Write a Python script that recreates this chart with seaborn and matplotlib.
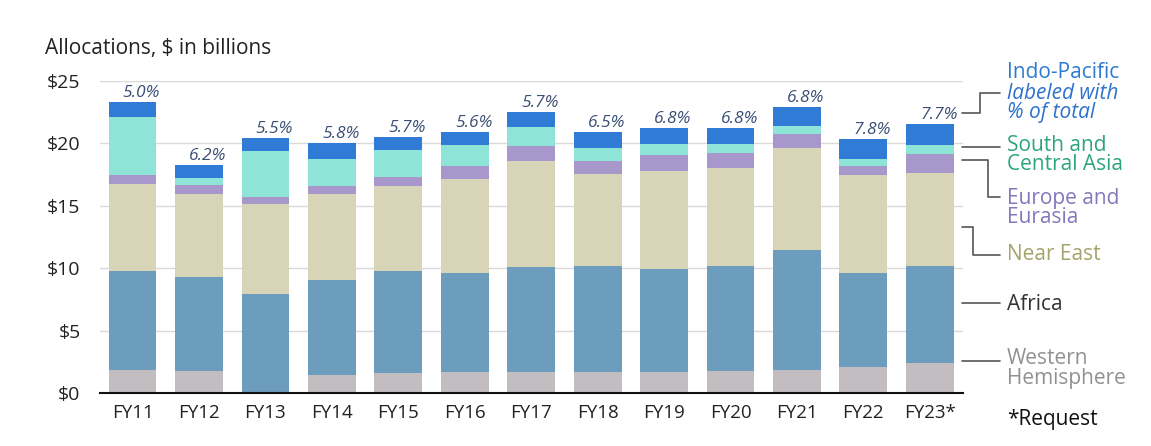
import numpy as np
import pandas as pd
import seaborn as sns
import matplotlib.pyplot as plt
from matplotlib.lines import Line2D
import matplotlib.transforms as mtransforms

# data, $ billions
years = ["FY11", "FY12", "FY13", "FY14", "FY15", "FY16", "FY17",
         "FY18", "FY19", "FY20", "FY21", "FY22", "FY23*"]
western_hemisphere = [1.84, 1.76, 0.0, 1.44, 1.58, 1.66, 1.66, 1.66, 1.66, 1.76, 1.84, 2.11, 2.38]
africa = [7.94, 7.56, 7.96, 7.59, 8.20, 7.98, 8.41, 8.52, 8.28, 8.42, 9.62, 7.53, 7.80]
near_east = [7.00, 6.65, 7.16, 6.94, 6.83, 7.51, 8.54, 7.37, 7.85, 7.82, 8.14, 7.83, 7.47]
europe_eurasia = [0.70, 0.73, 0.61, 0.64, 0.72, 1.04, 1.18, 1.06, 1.25, 1.26, 1.15, 0.72, 1.50]
south_central_asia = [4.60, 0.55, 3.64, 2.17, 2.14, 1.68, 1.50, 1.05, 0.88, 0.66, 0.64, 0.54, 0.72]
indo_pacific = [1.20, 1.05, 1.09, 1.25, 1.07, 1.07, 1.25, 1.28, 1.34, 1.34, 1.55, 1.60, 1.66]
ip_share = ["5.0%", "6.2%", "5.5%", "5.8%", "5.7%", "5.6%", "5.7%",
            "6.5%", "6.8%", "6.8%", "6.8%", "7.8%", "7.7%"]

regions = ["Western Hemisphere", "Africa", "Near East", "Europe and Eurasia",
           "South and Central Asia", "Indo-Pacific"]
values = [western_hemisphere, africa, near_east, europe_eurasia,
          south_central_asia, indo_pacific]
bar_colors = ["#c1bdc1", "#6d9dbd", "#d8d4b8", "#a897cb", "#8ee4d6", "#2f7bd6"]

# long table with cumulative tops for stacking
rows = []
cum = np.zeros(len(years))
for reg, v in zip(regions, values):
    cum = cum + np.array(v)
    for yr, top in zip(years, cum):
        rows.append({"year": yr, "region": reg, "top": top})
df = pd.DataFrame(rows)
totals = cum

sns.set_theme(style="white")
plt.rcParams["font.family"] = ["Open Sans", "DejaVu Sans"]

fig = plt.figure(figsize=(11.51, 4.46), dpi=100)
ax = fig.add_axes([100 / 1151, 1 - 393 / 446, 863 / 1151, 312 / 446])

# draw from the tallest cumulative down so each covers the one below
for reg, col in zip(regions[::-1], bar_colors[::-1]):
    sns.barplot(data=df[df["region"] == reg], x="year", y="top", color=col,
                width=0.72, errorbar=None, saturation=1, linewidth=0,
                order=years, ax=ax)

ax.set_xlim(-0.49, 12.5)
ax.set_ylim(0, 25)
ax.set_yticks(range(0, 30, 5))
ax.set_yticklabels(["$%d" % t for t in range(0, 30, 5)])
ax.set_xlabel("")
ax.set_ylabel("")
ax.set_axisbelow(True)
ax.yaxis.grid(True, color="#d9d9d9", linewidth=1)
for s in ["top", "right", "left"]:
    ax.spines[s].set_visible(False)
ax.spines["bottom"].set_color("#111111")
ax.spines["bottom"].set_linewidth(1.5)
ax.tick_params(axis="y", length=0, pad=14, labelsize=14, labelcolor="#222222")
ax.tick_params(axis="x", length=0, pad=8, labelsize=13.5, labelcolor="#222222")

# percent labels over the Indo-Pacific segment
for i, (t, lab) in enumerate(zip(totals, ip_share)):
    ax.annotate(lab, (i, t), xytext=(9, 5), textcoords="offset pixels",
                ha="center", va="baseline", fontsize=12.5, fontstyle="italic",
                color="#3a4e74", annotation_clip=False)

fig.text(45 / 1151, 1 - 54 / 446, "Allocations, $ in billions", fontsize=15,
         color="#222222", va="baseline")

# callouts on the right
tr = mtransforms.blended_transform_factory(ax.transAxes, ax.transData)
line_kw = dict(color="#555555", linewidth=1.2, transform=tr, clip_on=False)
x0, x1 = 0.999, 1.043
callouts = [
    ([x0, 1.0197, 1.0197, x1], [22.44, 22.44, 24.04, 24.04]),
    ([x0, x1], [19.68, 19.68]),
    ([x0, 1.029, 1.029, x1], [18.67, 18.67, 15.73, 15.73]),
    ([x0, 1.0112, 1.0112, x1], [13.33, 13.33, 11.06, 11.06]),
    ([x0, x1], [7.19, 7.19]),
    ([x0, x1], [2.59, 2.59]),
]
for xs, ys in callouts:
    ax.add_line(Line2D(xs, ys, **line_kw))

tx = 1.051
txt_kw = dict(transform=tr, fontsize=15, va="center", ha="left",
              linespacing=0.9, clip_on=False)
ax.text(tx, 25.72, "Indo-Pacific", color="#2e7bd1", **txt_kw)
ax.text(tx, 23.24, "labeled with\n% of total", color="#2e72cc",
        fontstyle="italic", **txt_kw)
ax.text(tx, 19.07, "South and\nCentral Asia", color="#2da57c", **txt_kw)
ax.text(tx, 14.82, "Europe and\nEurasia", color="#8577bc", **txt_kw)
ax.text(tx, 11.06, "Near East", color="#a4a36c", **txt_kw)
ax.text(tx, 7.13, "Africa", color="#333333", **txt_kw)
ax.text(tx, 1.96, "Western\nHemisphere", color="#919191", **txt_kw)
ax.text(tx, -2.16, "*Request", color="#111111", **txt_kw)

fig.savefig("out.png", dpi=100)
